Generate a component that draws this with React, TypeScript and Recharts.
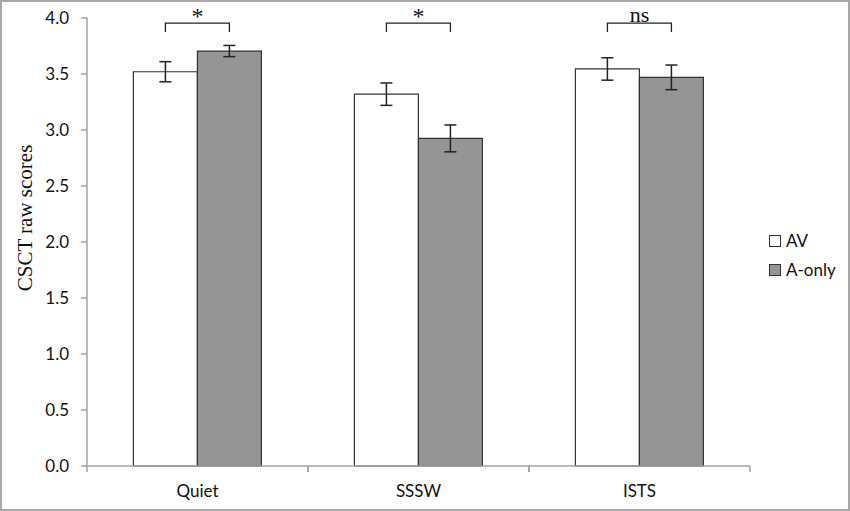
import React from 'react';
import { BarChart, Bar, XAxis, YAxis, ErrorBar, Legend, LabelList } from 'recharts';

const categories = ['Quiet', 'SSSW', 'ISTS'];
const avValues = [3.52, 3.32, 3.545];
const avErrors = [0.09, 0.1, 0.1];
const aOnlyValues = [3.705, 2.925, 3.47];
const aOnlyErrors = [0.05, 0.12, 0.11];
const sigLabels = ['*', '*', 'ns'];
const sigLevel = [3.955, 3.955, 3.955];
const sigLegLevel = [3.875, 3.875, 3.875];
const yTicks = [0, 0.5, 1, 1.5, 2, 2.5, 3, 3.5, 4];

const data = categories.map((c, i) => ({
  name: c,
  av: avValues[i],
  avErr: avErrors[i],
  aOnly: aOnlyValues[i],
  aOnlyErr: aOnlyErrors[i],
}));

const SANS = 'Lato, "Open Sans", sans-serif';
const SERIF = '"Liberation Serif", "DejaVu Serif", serif';
const AXIS_COLOR = '#a3a3a3';
const GRAY = '#959595';

const XTick = (props: any) => {
  const { x, y, payload } = props;
  const half = payload && typeof payload.offset === 'number' && payload.offset > 0 ? payload.offset : 110.5;
  return (
    <g>
      <line x1={x - half} y1={y} x2={x - half} y2={y + 6} stroke={AXIS_COLOR} strokeWidth={1.5} />
      <line x1={x + half} y1={y} x2={x + half} y2={y + 6} stroke={AXIS_COLOR} strokeWidth={1.5} />
      <text x={x} y={y + 31} textAnchor="middle" fontFamily={SANS} fontSize={17} fill="#111">
        {payload.value}
      </text>
    </g>
  );
};

const Bracket = (props: any) => {
  const { x, y, width, height, index } = props;
  if (x == null || width == null) return null;
  const v = avValues[index];
  const base = y + height;
  const pxPer = height / v;
  const top = base - sigLevel[index] * pxPer;
  const leg = base - sigLegLevel[index] * pxPer;
  const x1 = x + width / 2;
  const x2 = x + width * 1.5;
  const isNs = sigLabels[index] === 'ns';
  return (
    <g>
      <path d={`M${x1},${leg} L${x1},${top} L${x2},${top} L${x2},${leg}`} fill="none" stroke="#222" strokeWidth={1.3} />
      <text
        x={(x1 + x2) / 2}
        y={isNs ? top - 1.5 : top + 1}
        textAnchor="middle"
        fontFamily={SERIF}
        fontSize={isNs ? 22 : 24}
        fill="#111"
      >
        {sigLabels[index]}
      </text>
    </g>
  );
};

const LegendContent = () => {
  const items = [
    { label: 'AV', fill: '#ffffff' },
    { label: 'A-only', fill: GRAY },
  ];
  return (
    <div style={{ fontFamily: SANS, fontSize: 17, color: '#111' }}>
      {items.map((it) => (
        <div key={it.label} style={{ display: 'flex', alignItems: 'center', height: 29 }}>
          <span
            style={{
              display: 'inline-block',
              width: 10,
              height: 10,
              border: '1.5px solid #333',
              background: it.fill,
              marginRight: 5,
            }}
          />
          <span>{it.label}</span>
        </div>
      ))}
    </div>
  );
};

const YLabel = (props: any) => {
  const vb = props.viewBox || { x: 0, y: 18, width: 87, height: 448 };
  const cx = vb.x + 25;
  const cy = 218;
  return (
    <text
      x={cx}
      y={cy}
      transform={`rotate(-90, ${cx}, ${cy})`}
      textAnchor="middle"
      dominantBaseline="central"
      fontFamily={SERIF}
      fontSize={21}
      fill="#111"
    >
      CSCT raw scores
    </text>
  );
};

export default function App() {
  return (
    <div style={{ position: 'absolute', left: 0, top: 0, width: 850, height: 511, background: '#fff' }}>
      <BarChart
        width={850}
        height={511}
        data={data}
        margin={{ top: 18, right: 100, bottom: 0, left: 0 }}
        barCategoryGap="21%"
        barGap={0}
      >
        <XAxis
          dataKey="name"
          height={45}
          stroke={AXIS_COLOR}
          strokeWidth={1.5}
          tickLine={false}
          tickSize={0}
          tickMargin={0}
          tick={<XTick />}
          interval={0}
        />
        <YAxis
          width={87}
          domain={[0, 4]}
          ticks={yTicks}
          tickFormatter={(v: number) => v.toFixed(1)}
          stroke={AXIS_COLOR}
          strokeWidth={1.5}
          tickSize={6}
          tickMargin={12}
          tick={{ fontFamily: SANS, fontSize: 17, fill: '#111' }}
          label={<YLabel />}
        />
        <Legend
          layout="vertical"
          align="center"
          verticalAlign="middle"
          content={<LegendContent />}
          wrapperStyle={{ left: 769, top: 226, width: 80 }}
        />
        <Bar dataKey="av" name="AV" fill="#ffffff" stroke="#333" strokeWidth={1.2} isAnimationActive={false}>
          <ErrorBar dataKey="avErr" width={6} stroke="#222" strokeWidth={1.5} />
          <LabelList dataKey="av" content={<Bracket />} />
        </Bar>
        <Bar dataKey="aOnly" name="A-only" fill={GRAY} stroke="#333" strokeWidth={1.2} isAnimationActive={false}>
          <ErrorBar dataKey="aOnlyErr" width={6} stroke="#222" strokeWidth={1.5} />
        </Bar>
      </BarChart>
      <div
        style={{
          position: 'absolute',
          left: 0,
          top: 0,
          width: 850,
          height: 511,
          boxSizing: 'border-box',
          border: '2px solid #a8a8a8',
          pointerEvents: 'none',
        }}
      />
    </div>
  );
}
